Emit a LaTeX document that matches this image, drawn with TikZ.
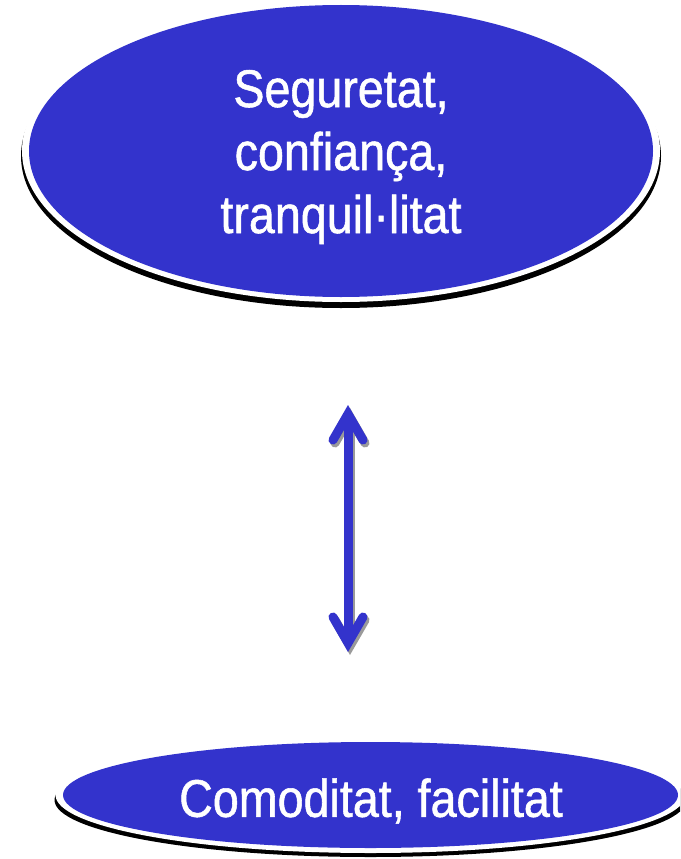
\documentclass[tikz,border=0pt]{standalone}
\usepackage{fontspec}
\usetikzlibrary{shapes.geometric,arrows.meta}
\newfontfamily\lab[FakeStretch=0.88,FakeBold=1]{Liberation Sans}
\definecolor{ovalblue}{HTML}{3333CC}
\definecolor{arrowshadow}{HTML}{9A9A9A}
\tikzset{
  barbtip/.tip={Straight Barb[length=26pt, width=30pt, line cap=round, line join=miter]},
  oval/.style={ellipse, fill=ovalblue, inner sep=0pt, draw=none},
  ovaltext/.style={text=white, align=center, inner sep=0pt, font=\lab\fontsize{53}{63}\selectfont},
  dblarrow/.style={line width=9pt, barbtip-barbtip}
}
\begin{document}
\begin{tikzpicture}[x=1pt, y=-1pt]
\useasboundingbox (0,0) rectangle (680,859);
\clip (0,0) rectangle (680,859);
% top oval: shadow, white rim, blue body
\fill[black] (341,156) ellipse [x radius=320, y radius=152];
\fill[white] (341,151) ellipse [x radius=319, y radius=151];
\node[oval, minimum width=624pt, minimum height=292pt] (top) at (341,151) {};
\node[ovaltext] (toptext) at (341,157) {Seguretat,\\confiança,\\tranquil·litat};
% bottom oval
\fill[black] (370.5,800) ellipse [x radius=316, y radius=57];
\fill[white] (370.5,795) ellipse [x radius=315, y radius=58];
\node[oval, minimum width=615pt, minimum height=106pt] (bot) at (370.5,795) {};
\node[ovaltext] (bottext) at (371,801) {Comoditat, facilitat};
% double arrow
\coordinate (atop) at (348,405);
\coordinate (abot) at (348,652);
\coordinate (atops) at (350,408);
\coordinate (abots) at (350,655);
\draw[dblarrow, draw=arrowshadow] (atops) -- (abots);
\draw[dblarrow, draw=ovalblue] (atop) -- (abot);
\end{tikzpicture}
\end{document}
